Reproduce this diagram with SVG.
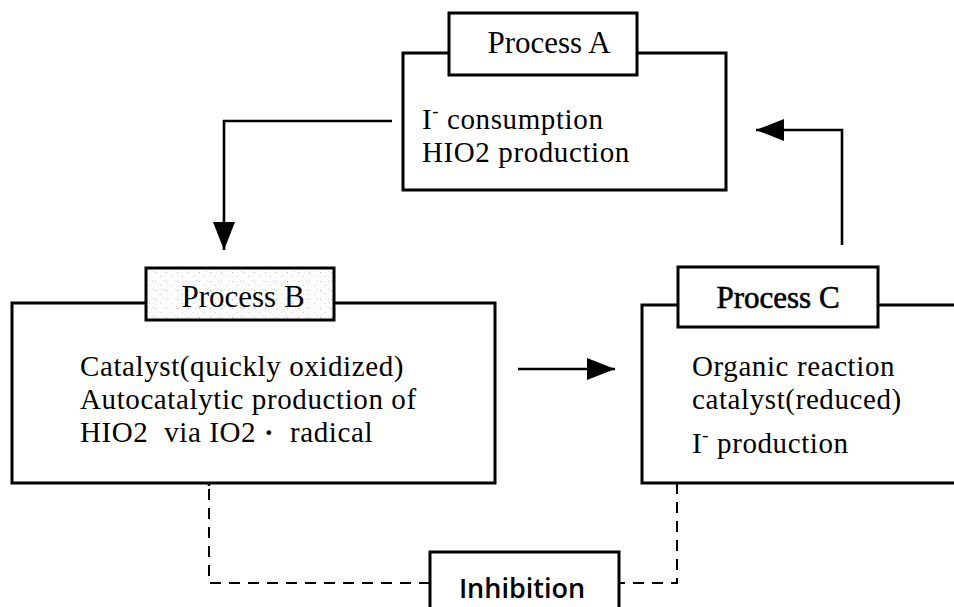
<svg xmlns="http://www.w3.org/2000/svg" width="954" height="607" viewBox="0 0 954 607">
<style>
.box{fill:#fff;stroke:#000;stroke-width:3}
.lbl{fill:#fff;stroke:#000;stroke-width:3}
.t{font-family:"Liberation Serif","Times New Roman",serif;font-size:31px;fill:#000;white-space:pre}
.b{font-family:"Liberation Serif","Times New Roman",serif;font-size:29px;letter-spacing:0.6px;fill:#000;white-space:pre}
.c{text-anchor:middle}
.ln{fill:none;stroke:#000;stroke-width:2.6}
.dash{fill:none;stroke:#000;stroke-width:2;stroke-dasharray:11 8}
.inh{font-family:"Open Sans","DejaVu Sans",sans-serif;font-size:27px;font-weight:600;fill:#000}
</style>
<defs>
<marker id="ah" markerUnits="userSpaceOnUse" viewBox="0 0 28 22" refX="28" refY="11" markerWidth="28" markerHeight="22" orient="auto">
<path d="M0,0 L28,11 L0,22 Z" fill="#000" stroke="none"/>
</marker>
<pattern id="speck" width="11" height="9" patternUnits="userSpaceOnUse">
<rect width="11" height="9" fill="#fdfdfd"/>
<rect x="1" y="2" width="1" height="1" fill="#b8b8b8"/>
<rect x="6" y="6" width="1" height="1" fill="#cfcfcf"/>
<rect x="9" y="1" width="1" height="1" fill="#dcdcdc"/>
</pattern>
</defs>
<rect width="954" height="607" fill="#fff"/>

<g id="connectors">
<path class="ln" d="M392,121 H224 V250" marker-end="url(#ah)"/>
<path class="ln" d="M518,369 H615" marker-end="url(#ah)"/>
<path class="ln" d="M842,245 V130 H756" marker-end="url(#ah)"/>
<path class="dash" d="M677,483 V583 H619"/>
<path class="dash" d="M430,583 H209 V485"/>
<path class="ln" d="M209,486 V453" marker-end="url(#ah)"/>
</g>

<g id="processA">
<rect class="box" x="403" y="53" width="323" height="137"/>
<rect class="lbl" x="449" y="13" width="188" height="62"/>
<text class="t c" x="549" y="53">Process A</text>
<text class="b" x="422" y="129">I<tspan dy="-12" font-size="19">-</tspan><tspan dy="12"> consumption</tspan></text>
<text class="b" x="422" y="162">HIO2 production</text>
</g>

<g id="processB">
<rect class="box" x="12" y="303" width="483" height="180"/>
<rect class="lbl" x="146" y="268" width="188" height="52" style="fill:url(#speck)"/>
<text class="t c" x="243" y="307">Process B</text>
<text class="b" x="80" y="376">Catalyst(quickly oxidized)</text>
<text class="b" x="80" y="409">Autocatalytic production of</text>
<text class="b" x="80" y="442">HIO2  via IO2 <tspan font-weight="bold">·</tspan>  radical</text>
</g>

<g id="processC">
<path class="box" d="M960,305 H642 V483 H960"/>
<rect class="lbl" x="678" y="267" width="200" height="60"/>
<text class="t c" x="778" y="308" style="stroke:#000;stroke-width:0.6">Process C</text>
<text class="b" x="692" y="376">Organic reaction</text>
<text class="b" x="692" y="409">catalyst(reduced)</text>
<text class="b" x="692" y="453">I<tspan dy="-12" font-size="19">-</tspan><tspan dy="12"> production</tspan></text>
</g>

<g id="inhibition">
<rect class="box" x="430" y="552" width="189" height="70"/>
<text class="inh" x="522" y="598" text-anchor="middle">Inhibition</text>
</g>
</svg>
